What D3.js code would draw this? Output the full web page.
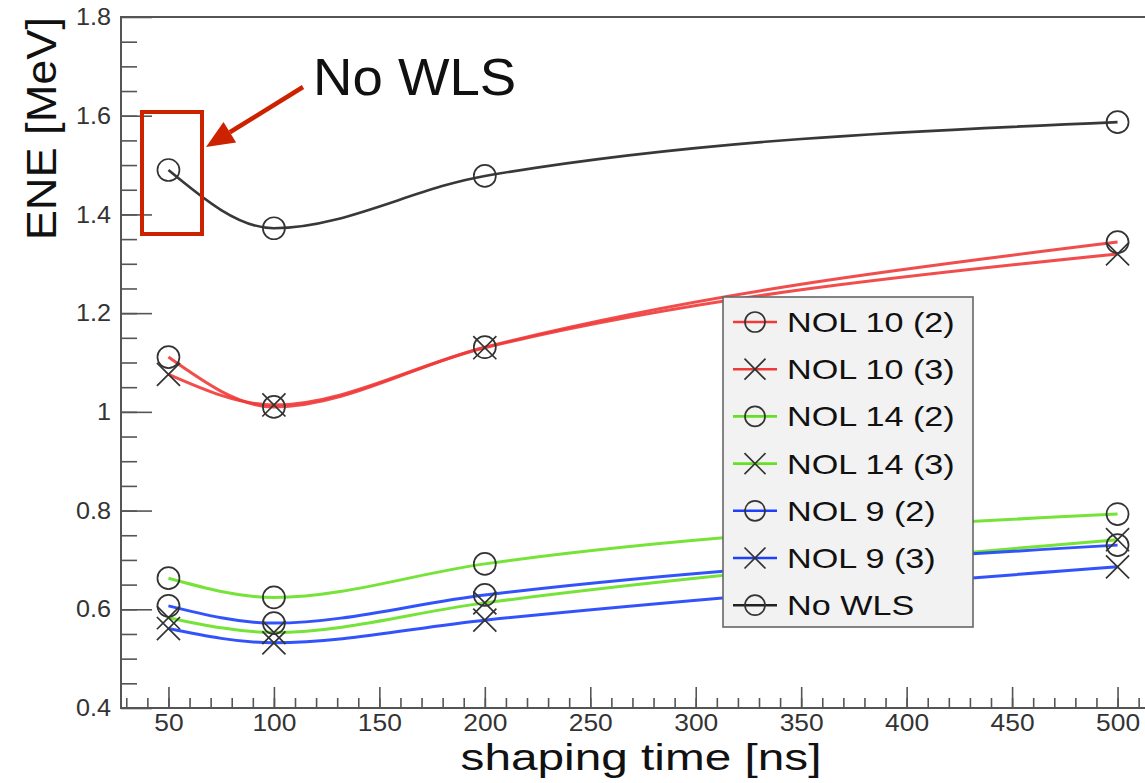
<!DOCTYPE html>
<html>
<head>
<meta charset="utf-8">
<script src="https://cdn.jsdelivr.net/npm/d3@7"></script>
<style>
  html, body { margin: 0; padding: 0; background: #fff; }
  svg { display: block; }
  text { font-family: "Liberation Sans", Arial, Helvetica, sans-serif; }
</style>
</head>
<body>
<svg id="chart" width="1145" height="783"></svg>
<script>
// Shaping times (ns) and ENE (MeV) per configuration
const shaping = [50, 100, 200, 500];
const nol10_2 = [1.111, 1.010, 1.131, 1.344];
const nol10_3 = [1.076, 1.014, 1.130, 1.320];
const nol14_2 = [0.663, 0.624, 0.692, 0.793];
const nol14_3 = [0.583, 0.553, 0.613, 0.741];
const nol9_2  = [0.607, 0.572, 0.629, 0.730];
const nol9_3  = [0.561, 0.532, 0.578, 0.686];
const noWLS   = [1.490, 1.372, 1.478, 1.587];

const seriesNames = ["NOL 10 (2)", "NOL 10 (3)", "NOL 14 (2)", "NOL 14 (3)", "NOL 9 (2)", "NOL 9 (3)", "No WLS"];
const seriesValues = [nol10_2, nol10_3, nol14_2, nol14_3, nol9_2, nol9_3, noWLS];
const seriesColors = ["#f03a3a", "#f03a3a", "#66e022", "#66e022", "#1c40fb", "#1c40fb", "#222222"];
const seriesMarkers = ["circle", "cross", "circle", "cross", "circle", "cross", "circle"];

const xTickValues = [50, 100, 150, 200, 250, 300, 350, 400, 450, 500];
const yTickValues = [0.4, 0.6, 0.8, 1.0, 1.2, 1.4, 1.6, 1.8];
const yTickLabels = ["0.4", "0.6", "0.8", "1", "1.2", "1.4", "1.6", "1.8"];

const svg = d3.select("#chart");
svg.append("rect").attr("width", 1145).attr("height", 783).attr("fill", "#fff");

// Frame extends past the right edge of the canvas
const x = d3.scaleLinear().domain([27.5, 522.5]).range([121, 1165]);
const y = d3.scaleLinear().domain([0.4, 1.8]).range([708, 17]);

const axisColor = "#555";

function stretch(sel, f) {
  sel.each(function () {
    const w = this.getComputedTextLength();
    this.setAttribute("textLength", w * f);
    this.setAttribute("lengthAdjust", "spacingAndGlyphs");
  });
}

// Frame
svg.append("rect")
  .attr("x", x.range()[0]).attr("y", y.range()[1])
  .attr("width", x.range()[1] - x.range()[0])
  .attr("height", y.range()[0] - y.range()[1])
  .attr("fill", "none").attr("stroke", axisColor).attr("stroke-width", 2);

// X axis: minor and major ticks pointing into the frame
const xMinor = svg.append("g").attr("transform", `translate(0,${y.range()[0]})`)
  .call(d3.axisBottom(x).tickValues(d3.range(30, 521, 10)).tickSize(-10).tickFormat(""));
const xMajor = svg.append("g").attr("transform", `translate(0,${y.range()[0]})`)
  .call(d3.axisBottom(x).tickValues(xTickValues).tickSize(-21).tickPadding(6).tickFormat(d3.format("d")));
[xMinor, xMajor].forEach(g => {
  g.select(".domain").remove();
  g.selectAll(".tick line").attr("stroke", axisColor).attr("stroke-width", 1.6);
});
xMajor.selectAll(".tick text").attr("font-size", 24).attr("fill", "#333");
stretch(xMajor.selectAll(".tick text"), 1.1);

// Y axis
const yMinor = svg.append("g").attr("transform", `translate(${x.range()[0]},0)`)
  .call(d3.axisLeft(y).tickValues(d3.range(0.45, 1.8, 0.05)).tickSize(-16).tickFormat(""));
const yMajor = svg.append("g").attr("transform", `translate(${x.range()[0]},0)`)
  .call(d3.axisLeft(y).tickValues(yTickValues).tickSize(-31).tickPadding(10)
    .tickFormat((d, i) => yTickLabels[i]));
[yMinor, yMajor].forEach(g => {
  g.select(".domain").remove();
  g.selectAll(".tick line").attr("stroke", axisColor).attr("stroke-width", 1.6);
});
yMajor.selectAll(".tick text").attr("font-size", 24).attr("fill", "#333");
stretch(yMajor.selectAll(".tick text"), 1.05);

// Axis titles
const xTitle = svg.append("text")
  .attr("x", 641).attr("y", 770).attr("text-anchor", "middle")
  .attr("font-size", 37).attr("fill", "#111").text("shaping time [ns]");
stretch(xTitle, 1.29);

const yTitle = svg.append("text")
  .attr("transform", "translate(56,17) rotate(-90)")
  .attr("text-anchor", "end")
  .attr("font-size", 43).attr("fill", "#111").text("ENE [MeV]");
stretch(yTitle, 1.05);

// Smooth curves through the measured points
const line = d3.line()
  .x(d => x(d[0]))
  .y(d => y(d[1]))
  .curve(d3.curveMonotoneX);

const plot = svg.append("g");
seriesValues.forEach((vals, i) => {
  const pts = shaping.map((s, j) => [s, vals[j]]);
  plot.append("path")
    .attr("d", line(pts))
    .attr("fill", "none")
    .attr("stroke", seriesColors[i])
    .attr("stroke-width", i === 6 ? 2.6 : 3)
    .attr("opacity", 0.9);
});

function drawMarker(g, type, cx, cy, r) {
  if (type === "circle") {
    g.append("circle").attr("cx", cx).attr("cy", cy).attr("r", r)
      .attr("fill", "none").attr("stroke", "#333").attr("stroke-width", 1.7);
  } else {
    const a = r * 1.05;
    g.append("path")
      .attr("d", `M${cx - a},${cy - a}L${cx + a},${cy + a}M${cx - a},${cy + a}L${cx + a},${cy - a}`)
      .attr("fill", "none").attr("stroke", "#333").attr("stroke-width", 1.7);
  }
}

const markers = svg.append("g");
seriesValues.forEach((vals, i) => {
  shaping.forEach((s, j) => drawMarker(markers, seriesMarkers[i], x(s), y(vals[j]), 11));
});

// Legend
const legend = svg.append("g");
legend.append("rect")
  .attr("x", 723).attr("y", 297).attr("width", 250).attr("height", 330)
  .attr("fill", "#f2f2f2").attr("stroke", "#666").attr("stroke-width", 1.6);
seriesNames.forEach((name, i) => {
  const cy = 322 + i * 47.2;
  legend.append("line")
    .attr("x1", 733).attr("x2", 777).attr("y1", cy).attr("y2", cy)
    .attr("stroke", seriesColors[i]).attr("stroke-width", 2.6);
  drawMarker(legend, seriesMarkers[i], 755, cy, 10);
  const t = legend.append("text")
    .attr("x", 787).attr("y", cy + 10)
    .attr("font-size", 28).attr("fill", "#111").text(name);
  stretch(t, 1.22);
});

// Annotation marking the 50 ns No WLS point
const red = "#cc2200";
const note = svg.append("g");
note.append("rect")
  .attr("x", 142).attr("y", 112).attr("width", 60).attr("height", 122)
  .attr("fill", "none").attr("stroke", red).attr("stroke-width", 4);
const tail = [303, 87], tip = [206, 147];
const dx = tip[0] - tail[0], dy = tip[1] - tail[1];
const len = Math.hypot(dx, dy), ux = dx / len, uy = dy / len;
const headLen = 28, headHalf = 12;
const base = [tip[0] - ux * headLen, tip[1] - uy * headLen];
note.append("line")
  .attr("x1", tail[0]).attr("y1", tail[1]).attr("x2", base[0]).attr("y2", base[1])
  .attr("stroke", red).attr("stroke-width", 4.5);
note.append("path")
  .attr("d", `M${tip[0]},${tip[1]}L${base[0] - uy * headHalf},${base[1] + ux * headHalf}L${base[0] + uy * headHalf},${base[1] - ux * headHalf}Z`)
  .attr("fill", red);
const noteText = note.append("text")
  .attr("x", 313).attr("y", 95)
  .attr("font-size", 52).attr("fill", "#111").text("No WLS");
stretch(noteText, 1.05);
</script>
</body>
</html>
